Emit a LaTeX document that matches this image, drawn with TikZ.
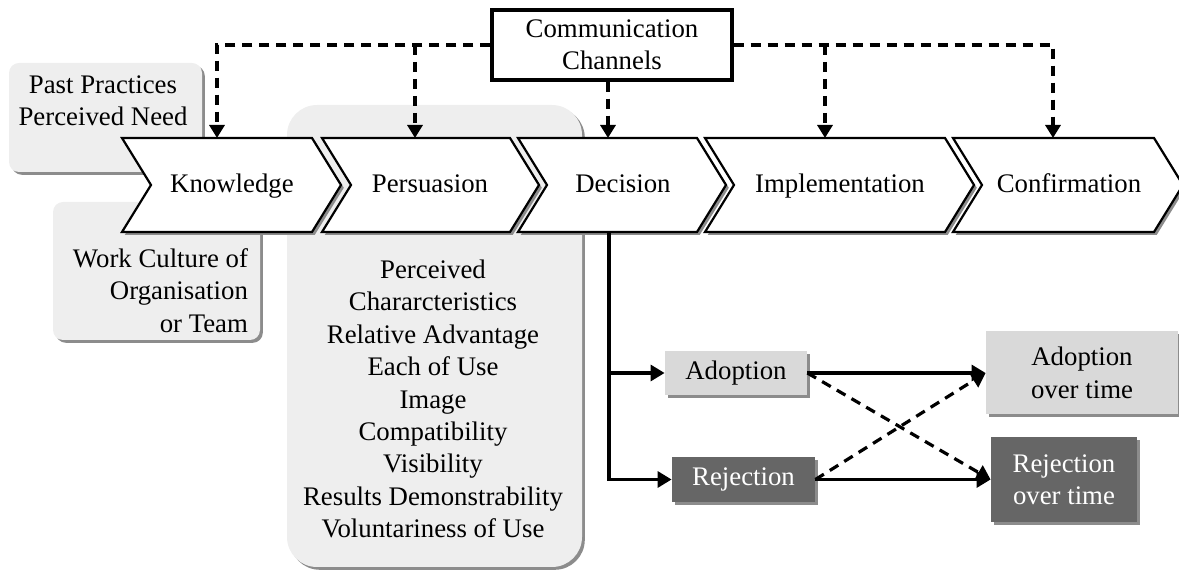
\documentclass[tikz,border=0pt]{standalone}
\usepackage{fontspec}
\setmainfont{Liberation Serif}
\usetikzlibrary{arrows.meta,shadows}

\begin{document}
\begin{tikzpicture}[x=0.5pt,y=0.5pt,yscale=-1,xscale=1,
  font=\fontsize{13.4}{16.2}\selectfont,
  boxshadow/.style={drop shadow={shadow xshift=1.4pt,shadow yshift=-1.4pt,opacity=1,fill=black!45}},
  chev/.style={draw=black,line width=1.1pt,fill=white,boxshadow},
  lbl/.style={text height=1.6ex,text depth=.5ex},
  infobox/.style={fill=gray!13,rounded corners=#1,boxshadow},
  chan/.style={dash pattern={on 5pt off 3.5pt},line width=1.6pt,-{Triangle[length=6.5pt,width=7.5pt]}},
  flow/.style={line width=1.6pt,-{Triangle[length=7pt,width=8pt]}},
  lightbox/.style={fill=gray!30,inner sep=0pt,boxshadow},
  darkbox/.style={fill=black!60,text=white,inner sep=0pt,boxshadow}
]
\useasboundingbox (0,0) rectangle (1179,571);

%Shape: Rounded Rect [Past Practices]
\fill [infobox=5pt] (9,63) rectangle (202,172);
%Shape: Rounded Rect [Work Culture]
\fill [infobox=5pt] (53,202) rectangle (260,340);
%Shape: Rounded Rect [Perceived Characteristics]
\fill [infobox=15pt] (287,105) rectangle (582,567);

%Shape: Chevron [Knowledge]
\draw [chev] (122,138) -- (312,138) -- (341,185) -- (312,232) -- (122,232) -- (151,185) -- cycle ;
%Shape: Chevron [Persuasion]
\draw [chev] (322,138) -- (510,138) -- (539,185) -- (510,232) -- (322,232) -- (351,185) -- cycle ;
%Shape: Chevron [Decision]
\draw [chev] (518,138) -- (697,138) -- (726,185) -- (697,232) -- (518,232) -- (547,185) -- cycle ;
%Shape: Chevron [Implementation]
\draw [chev] (705,138) -- (945,138) -- (974,185) -- (945,232) -- (705,232) -- (734,185) -- cycle ;
%Shape: Chevron [Confirmation]
\draw [chev] (953,138) -- (1154,138) -- (1183,185) -- (1154,232) -- (953,232) -- (982,185) -- cycle ;

% Text Node
\node [lbl] (know) at (232,187) {Knowledge};
% Text Node
\node [lbl] (pers) at (430,187) {Persuasion};
% Text Node
\node [lbl] (deci) at (623,187) {Decision};
% Text Node
\node [lbl] (impl) at (840,187) {Implementation};
% Text Node
\node [lbl] (conf) at (1069,187) {Confirmation};

% Text Node
\node [align=center] (past) at (103,101) {Past Practices\\Perceived Need};
% Text Node
\node [align=right,anchor=east] (work) at (255,290.5) {Work Culture of\\Organisation\\or Team};
% Text Node
\node [align=center] (percv) at (433,399) {Perceived\\Chararcteristics\\Relative Advantage\\Each of Use\\Image\\Compatibility\\Visibility\\Results Demonstrability\\Voluntariness of Use};

% Text Node
\node [draw,fill=white,line width=1.6pt,minimum width=120pt,minimum height=35pt,align=center] (comm) at (612,45) {Communication\\Channels};

\coordinate (knowTop) at (217,138);
\coordinate (persTop) at (415,138);
\coordinate (deciTop) at (608,138);
\coordinate (implTop) at (825,138);
\coordinate (confTop) at (1053,138);
\coordinate (deciBot) at (609,232);

%Dashed Lines
\draw [chan] (comm.west) -| (knowTop);
\draw [chan] (comm.west -| persTop) -- (persTop);
\draw [chan] (comm.south -| deciTop) -- (deciTop);
\draw [chan] (comm.east) -| (confTop);
\draw [chan] (comm.east -| implTop) -- (implTop);

% Text Node
\node [lightbox,minimum width=71pt,minimum height=22pt] (adopt) at (736,373) {Adoption};
% Text Node
\node [darkbox,minimum width=71.5pt,minimum height=22.5pt] (reject) at (743.5,479.5) {Rejection};
% Text Node
\node [lightbox,minimum width=96pt,minimum height=41.5pt,align=center] (adoptT) at (1082,373) {Adoption\\over time};
% Text Node
\node [darkbox,minimum width=73pt,minimum height=42.5pt,align=center] (rejectT) at (1064,479.5) {Rejection\\over time};

%Straight Lines
\draw [flow] (deciBot) |- (adopt.west);
\draw [flow] (deciBot) |- (reject.west);
\draw [flow] (adopt.east) -- (adoptT.west);
\draw [flow] (reject.east) -- (rejectT.west);
\draw [flow,dash pattern={on 5pt off 3.5pt}] (adopt.east) -- (rejectT.west);
\draw [flow,dash pattern={on 5pt off 3.5pt}] (reject.east) -- (adoptT.west);

\end{tikzpicture}
\end{document}
